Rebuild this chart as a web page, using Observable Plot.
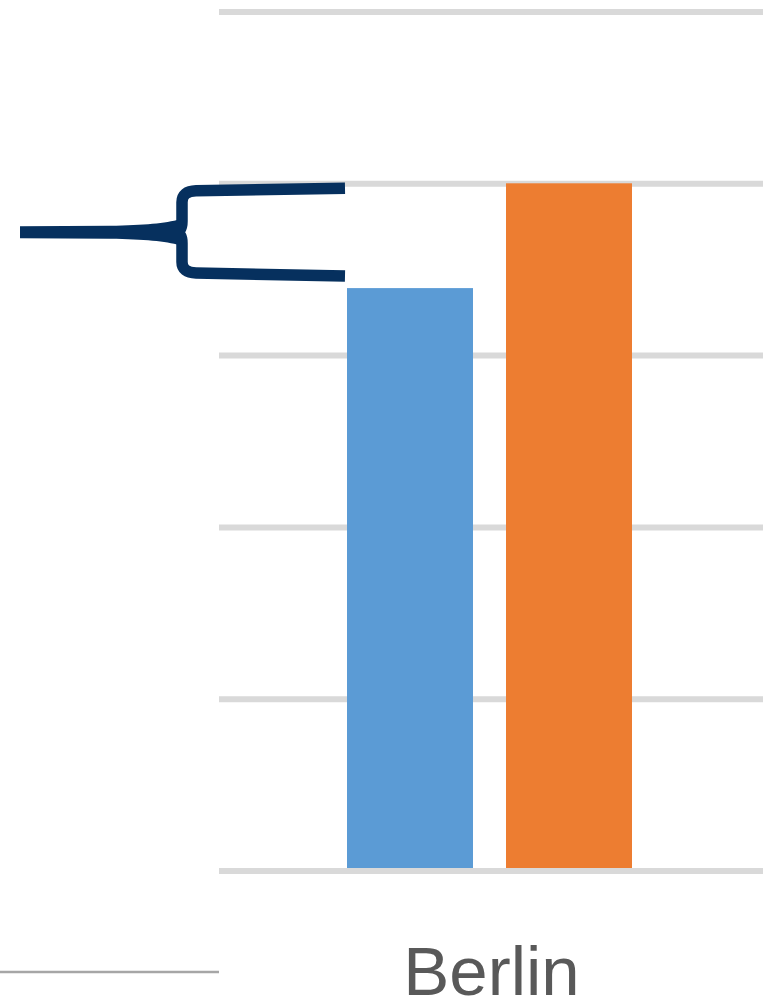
<!DOCTYPE html>
<html>
<head>
<meta charset="utf-8">
<script src="https://cdn.jsdelivr.net/npm/d3@7"></script>
<script src="https://cdn.jsdelivr.net/npm/@observablehq/plot@0.6"></script>
<style>
  html, body { margin: 0; padding: 0; background: #ffffff; }
  #chart { width: 763px; height: 997px; overflow: hidden; }
</style>
</head>
<body>
<div id="chart"></div>
<script>
// ---- data ----
const cities = ["Berlin"];
const series = ["Series 1", "Series 2"];
const values = [3.39, 4.0];
const yTicks = [0, 1, 2, 3, 4, 5];
const colors = ["#5B9BD5", "#ED7D31"];

const data = series.map((s, i) => ({ city: cities[0], series: s, value: values[i] }));

const plot = Plot.plot({
  width: 763,
  height: 997,
  marginLeft: 219,
  marginRight: 0,
  marginTop: 11.5,
  marginBottom: 126.5,
  style: { background: "#ffffff", fontFamily: "Liberation Sans, Arial, sans-serif" },
  fx: { domain: cities, padding: 0 },
  x: { domain: series, axis: null, paddingInner: 0.2075, paddingOuter: 0.814, align: 0.494 },
  y: { domain: [0, 5], axis: null },
  color: { domain: series, range: colors },
  marks: [
    Plot.gridY(yTicks.filter(d => d !== 0), { stroke: "#D9D9D9", strokeOpacity: 1, strokeWidth: 6 }),
    Plot.barY(data, { fx: "city", x: "series", y: "value", fill: "series", inset: 0 }),
    Plot.gridY([0], { stroke: "#D9D9D9", strokeOpacity: 1, strokeWidth: 6 }),
    Plot.axisFx({ anchor: "bottom", tickSize: 0, tickPadding: 75, fontSize: 69, fill: "#595959", label: null })
  ]
});

document.getElementById("chart").appendChild(plot);

// ---- annotation: brace showing the gap between the two bars ----
const yS = plot.scale("y");
const xS = plot.scale("x");
const svg = d3.select(plot);
const navy = "#06305E";

// left edge of the blue bar
const blueRect = plot.querySelector("rect[fill='" + colors[0] + "']") || plot.querySelector("g[aria-label='bar'] rect");
let xBlue = blueRect ? +blueRect.getAttribute("x") : xS.apply(series[0]);
if (blueRect) {
  const gEl = blueRect.closest("g[transform]");
  // accumulate any translate on parents
  let el = blueRect.parentNode;
  while (el && el !== plot) {
    const t = el.getAttribute && el.getAttribute("transform");
    if (t) { const m = /translate\(([-\d.]+)/.exec(t); if (m) xBlue += +m[1]; }
    el = el.parentNode;
  }
}

const yTop = yS.apply(values[1]) + 5;        // top arm (at taller bar)
const yBot = yS.apply(values[0]) - 12;       // bottom arm (at shorter bar)
const xR = xBlue - 2;                        // arms end at blue bar
const xBr = 219 - 37;                        // brace spine
const ym = (yTop + yBot) / 2;
const xTail = 20;

const g = svg.append("g");
g.append("path")
  .attr("d",
    `M${xR},${yTop} L${xBr + 14},${yTop + 2.5} Q${xBr},${yTop + 3} ${xBr},${yTop + 14} ` +
    `L${xBr},${ym - 11} Q${xBr},${ym - 1} ${xBr - 7},${ym}` +
    `M${xR},${yBot} L${xBr + 14},${yBot - 3} Q${xBr},${yBot - 3.5} ${xBr},${yBot - 14} ` +
    `L${xBr},${ym + 11} Q${xBr},${ym + 1} ${xBr - 7},${ym}`)
  .attr("fill", "none")
  .attr("stroke", navy)
  .attr("stroke-width", 11.5)
  .attr("stroke-linejoin", "round");

g.append("path")
  .attr("d",
    `M${xTail},${ym - 6} L${xTail + 90},${ym - 6.5} C${xTail + 125},${ym - 7} ${xTail + 145},${ym - 9} ${xBr - 2},${ym - 13} ` +
    `L${xBr + 3},${ym} L${xBr - 2},${ym + 13} ` +
    `C${xTail + 145},${ym + 9} ${xTail + 125},${ym + 7} ${xTail + 90},${ym + 6.5} L${xTail},${ym + 6} Z`)
  .attr("fill", navy);

// thin grey line at bottom-left (edge of neighbouring axis)
svg.append("line")
  .attr("x1", 0).attr("x2", 219)
  .attr("y1", yS.apply(0) + 101.5).attr("y2", yS.apply(0) + 101.5)
  .attr("stroke", "#A6A6A6").attr("stroke-width", 2.5);
</script>
</body>
</html>
